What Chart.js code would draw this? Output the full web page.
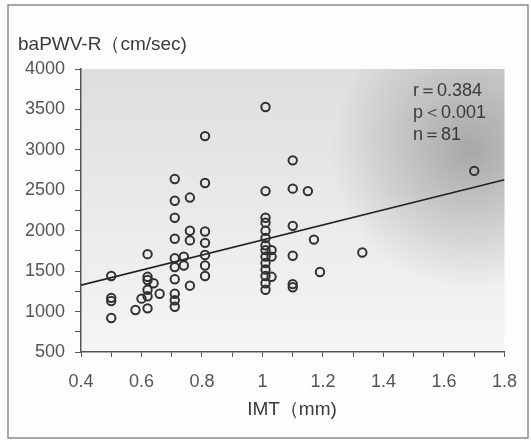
<!DOCTYPE html>
<html>
<head>
<meta charset="utf-8">
<script src="https://cdn.jsdelivr.net/npm/chart.js@4"></script>
<style>
  html, body { margin: 0; padding: 0; background: #fdfdfb; }
  canvas { display: block; }
</style>
</head>
<body>
<canvas id="myChart" width="531" height="440"></canvas>
<script>
// IMT (mm) vs baPWV-R (cm/sec)
var imtValues = [
  0.5, 0.5, 0.5, 0.5,
  0.58, 0.6,
  0.62, 0.62, 0.62, 0.62, 0.62, 0.62,
  0.64, 0.66,
  0.71, 0.71, 0.71, 0.71, 0.71, 0.71, 0.71, 0.71, 0.71, 0.71,
  0.74, 0.74,
  0.76, 0.76, 0.76, 0.76,
  0.81, 0.81, 0.81, 0.81, 0.81, 0.81, 0.81,
  1.01, 1.01, 1.01, 1.01, 1.01, 1.01, 1.01, 1.01, 1.01, 1.01, 1.01, 1.01, 1.01, 1.01,
  1.03, 1.03, 1.03,
  1.1, 1.1, 1.1, 1.1, 1.1, 1.1,
  1.15, 1.17, 1.19,
  1.33, 1.7
];
var pwvValues = [
  1440, 1170, 1130, 920,
  1020, 1160,
  1710, 1430, 1390, 1270, 1190, 1040,
  1350, 1220,
  2640, 2370, 2160, 1900, 1660, 1550, 1400, 1220, 1140, 1060,
  1680, 1570,
  2410, 2000, 1880, 1320,
  3170, 2590, 1990, 1850, 1700, 1570, 1440,
  3530, 2490, 2160, 2100, 2000, 1910, 1820, 1760, 1680, 1600, 1520, 1440, 1350, 1270,
  1760, 1680, 1430,
  2870, 2520, 2060, 1690, 1340, 1300,
  2490, 1890, 1490,
  1730, 2740
];
// regression line end points
var fitX = [0.4, 1.8];
var fitY = [1327, 2630];
var statLines = ['r＝0.384', 'p＜0.001', 'n＝81'];
var yTitle = 'baPWV-R（cm/sec)';
var xTitle = 'IMT（mm)';

var points = imtValues.map(function (x, i) { return { x: x, y: pwvValues[i] }; });
var fitLine = fitX.map(function (x, i) { return { x: x, y: fitY[i] }; });

var FONT = '"Liberation Sans", Arial, sans-serif';
var INK = '#3a3a3a';

var decorPlugin = {
  id: 'decor',
  beforeDraw: function (chart) {
    var c = chart.ctx, a = chart.chartArea;
    c.save();
    c.fillStyle = '#fdfdfb';
    c.fillRect(0, 0, chart.width, chart.height);
    // outer frame
    c.strokeStyle = '#8a8a8a';
    c.lineWidth = 1.5;
    c.strokeRect(8, 5, 520, 433);
    // scanned grey tint of the plot area
    var g = c.createLinearGradient(0, a.top, 0, a.bottom);
    g.addColorStop(0, 'rgba(0,0,0,0.12)');
    g.addColorStop(1, 'rgba(0,0,0,0.03)');
    c.fillStyle = g;
    c.fillRect(a.left, a.top, a.right - a.left, a.bottom - a.top);
    var r = c.createRadialGradient(470, 150, 5, 470, 150, 140);
    r.addColorStop(0, 'rgba(0,0,0,0.26)');
    r.addColorStop(1, 'rgba(0,0,0,0)');
    c.fillStyle = r;
    c.fillRect(a.left, a.top, a.right - a.left, a.bottom - a.top);
    c.restore();
  },
  afterDraw: function (chart) {
    var c = chart.ctx;
    c.save();
    c.fillStyle = INK;
    c.font = '19px ' + FONT;
    c.textBaseline = 'middle';
    c.textAlign = 'left';
    c.fillText(yTitle, 18, 45);
    c.textAlign = 'center';
    c.fillText(xTitle, 292, 410);
    c.textAlign = 'left';
    c.font = '18px ' + FONT;
    statLines.forEach(function (s, i) {
      c.fillText(s, 413, 91 + i * 22);
    });
    c.restore();
  }
};

var ctx = document.getElementById('myChart').getContext('2d');
var chart = new Chart(ctx, {
  type: 'scatter',
  data: {
    datasets: [{
      data: points,
      pointStyle: 'circle',
      pointRadius: 4.2,
      pointBorderWidth: 2,
      borderColor: '#2e332e',
      backgroundColor: 'transparent'
    }, {
      type: 'line',
      data: fitLine,
      borderColor: '#222',
      borderWidth: 1.6,
      pointRadius: 0,
      fill: false
    }]
  },
  options: {
    responsive: false,
    animation: false,
    layout: { padding: { left: 0, top: 69, right: 24, bottom: 0 } },
    plugins: { legend: { display: false }, tooltip: { enabled: false } },
    scales: {
      x: {
        type: 'linear',
        min: 0.4, max: 1.8,
        afterFit: function (s) { s.height = 88; },
        border: { display: true, color: '#555', width: 1.5 },
        grid: { drawOnChartArea: false, drawTicks: true, tickLength: 5, color: '#555' },
        ticks: {
          stepSize: 0.1, autoSkip: false, maxRotation: 0,
          color: '#555', padding: 14,
          font: { family: FONT, size: 18 },
          callback: function (v) {
            var t = Math.round(v * 10);
            return t % 2 ? '' : String(t / 10);
          }
        }
      },
      y: {
        min: 500, max: 4000,
        afterFit: function (s) { s.width = 81; },
        border: { display: true, color: '#555', width: 1.5 },
        grid: { drawOnChartArea: false, drawTicks: true, tickLength: 6, color: '#555' },
        ticks: {
          stepSize: 250, autoSkip: false,
          color: '#555', padding: 10,
          font: { family: FONT, size: 18 },
          callback: function (v) { return v % 500 ? '' : String(v); }
        }
      }
    }
  },
  plugins: [decorPlugin]
});
</script>
</body>
</html>
